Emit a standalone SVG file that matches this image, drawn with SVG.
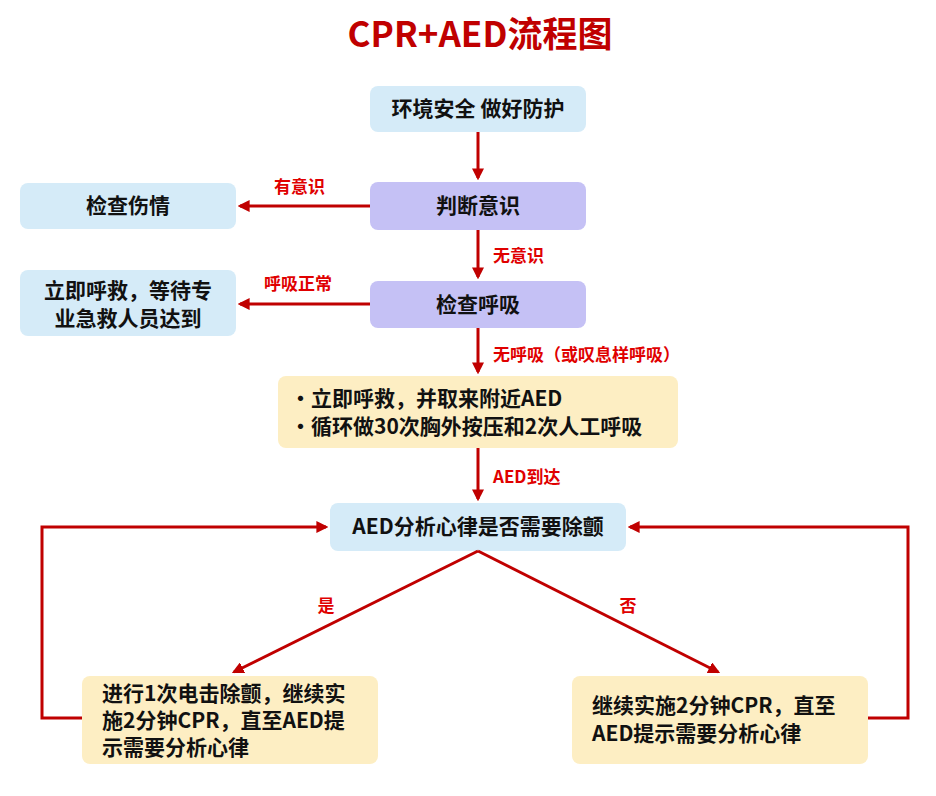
<svg xmlns="http://www.w3.org/2000/svg" width="936" height="796" viewBox="0 0 936 796">
<style>
text{font-family:"Noto Sans CJK SC","Liberation Sans",sans-serif;font-weight:bold}
.t{font-size:21px;fill:#111}
.l{font-size:17px;fill:#e00000}
.blue{fill:#d5ebf8}
.lav{fill:#c5c1f5}
.yel{fill:#fdeec3}
.c{fill:none;stroke:#c00000;stroke-width:3}
</style>
<defs><marker id="a" viewBox="0 0 10 10" refX="8" refY="5" markerWidth="4" markerHeight="4" orient="auto"><path d="M0,0L10,5L0,10z" fill="#c00000"/></marker></defs>
<rect width="936" height="796" fill="#fff"/>
<text x="480" y="47" text-anchor="middle" style="font-size:35px;fill:#c00000">CPR+AED流程图</text>
<g id="n1"><rect class="blue" x="370" y="86" width="216" height="46" rx="8"/><text class="t" x="478" y="116" text-anchor="middle">环境安全 做好防护</text></g>
<g id="n2"><rect class="lav" x="370" y="182" width="216" height="48" rx="8"/><text class="t" x="478" y="213" text-anchor="middle">判断意识</text></g>
<g id="n3"><rect class="blue" x="20" y="183" width="216" height="46" rx="8"/><text class="t" x="128" y="213" text-anchor="middle">检查伤情</text></g>
<g id="n4"><rect class="lav" x="370" y="281" width="216" height="47" rx="8"/><text class="t" x="478" y="312" text-anchor="middle">检查呼吸</text></g>
<g id="n5"><rect class="blue" x="20" y="270" width="216" height="66" rx="8"/><text class="t" x="128" y="298" text-anchor="middle">立即呼救，等待专</text><text class="t" x="128" y="326" text-anchor="middle">业急救人员达到</text></g>
<g id="n6"><rect class="yel" x="278" y="376" width="400" height="72" rx="8"/><text class="t" x="290" y="406">・立即呼救，并取来附近AED</text><text class="t" x="290" y="434">・循环做30次胸外按压和2次人工呼吸</text></g>
<g id="n7"><rect class="blue" x="330" y="503" width="296" height="48" rx="8"/><text class="t" x="478" y="534" text-anchor="middle">AED分析心律是否需要除颤</text></g>
<g id="n8"><rect class="yel" x="82" y="676" width="296" height="88" rx="8"/><text class="t" x="102" y="701">进行1次电击除颤，继续实</text><text class="t" x="102" y="728">施2分钟CPR，直至AED提</text><text class="t" x="102" y="755">示需要分析心律</text></g>
<g id="n9"><rect class="yel" x="572" y="676" width="296" height="88" rx="8"/><text class="t" x="592" y="713">继续实施2分钟CPR，直至</text><text class="t" x="592" y="741">AED提示需要分析心律</text></g>
<g id="connectors">
<path class="c" d="M478,132V178" marker-end="url(#a)"/>
<path class="c" d="M370,206H240" marker-end="url(#a)"/>
<path class="c" d="M478,230V277" marker-end="url(#a)"/>
<path class="c" d="M370,304H240" marker-end="url(#a)"/>
<path class="c" d="M478,328V372" marker-end="url(#a)"/>
<path class="c" d="M478,448V499" marker-end="url(#a)"/>
<path class="c" d="M478,551L234,672" marker-end="url(#a)"/>
<path class="c" d="M478,551L718,672" marker-end="url(#a)"/>
<path class="c" d="M82,718H42V527H326" marker-end="url(#a)"/>
<path class="c" d="M868,718H908V527H630" marker-end="url(#a)"/>
<text class="l" x="274" y="193">有意识</text>
<text class="l" x="493" y="262">无意识</text>
<text class="l" x="264" y="290">呼吸正常</text>
<text class="l" x="493" y="361">无呼吸（或叹息样呼吸）</text>
<text class="l" x="493" y="483">AED到达</text>
<text class="l" x="326" y="612" text-anchor="middle">是</text>
<text class="l" x="628" y="612" text-anchor="middle">否</text>
</g>
</svg>
